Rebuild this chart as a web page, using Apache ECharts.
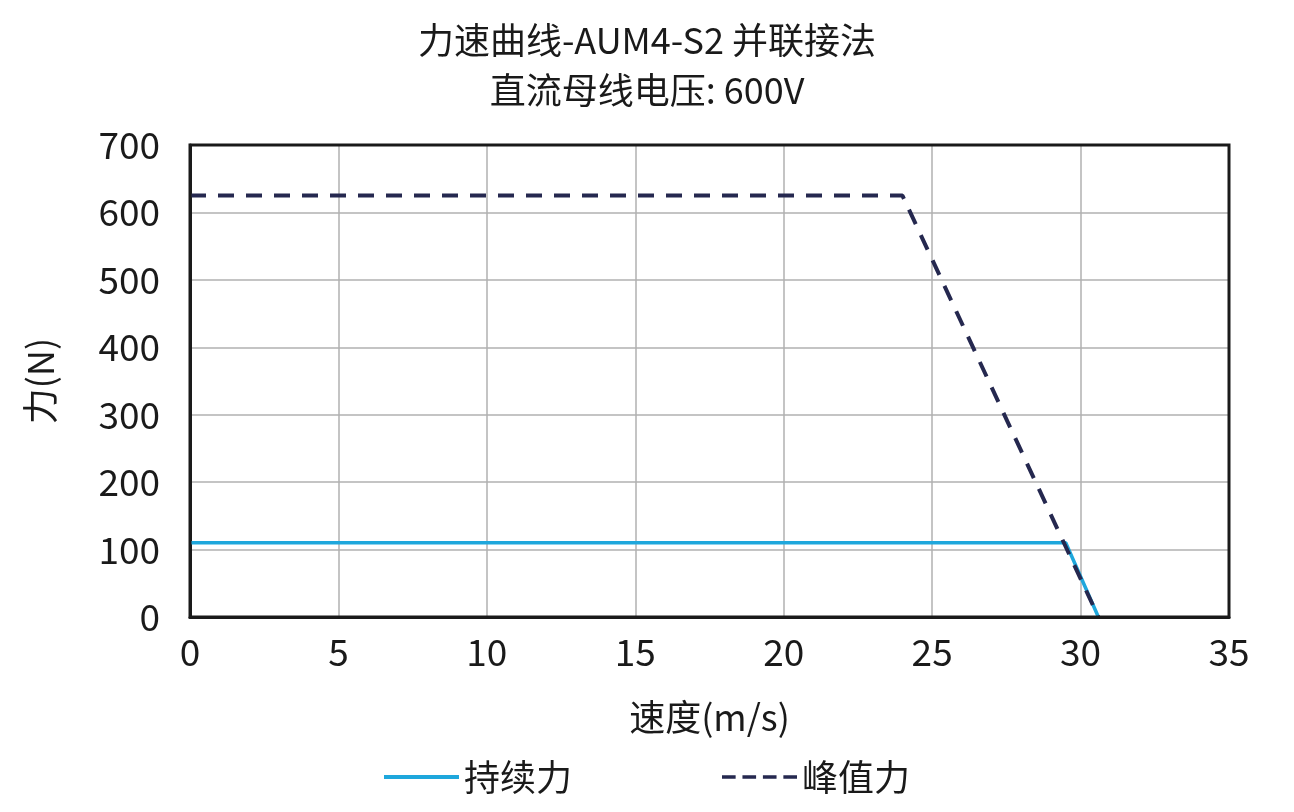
<!DOCTYPE html>
<html><head><meta charset="utf-8">
<script src="https://cdn.jsdelivr.net/npm/echarts@6/dist/echarts.min.js"></script>
<style>html,body{margin:0;background:#fff}#c{width:1294px;height:812px}</style></head>
<body><div id="c"></div>
<script>
const continuousForce = [[0,110],[29.5,110],[30.6,0]];
const peakForce = [[0,625],[24.0,625],[30.6,0]];
const F = '"Noto Sans CJK SC", "Noto Sans", sans-serif';
const chart = echarts.init(document.getElementById('c'));
chart.setOption({
  animation:false,
  title:{text:'力速曲线-AUM4-S2 并联接法\n直流母线电压: 600V',left:'center',top:10,
    textStyle:{fontFamily:F,fontSize:36,fontWeight:'normal',color:'#1a1a1a',lineHeight:50}},
  grid:{left:190,right:65,top:145,bottom:195},
  xAxis:{type:'value',min:0,max:35,interval:5,name:'速度(m/s)',nameLocation:'middle',nameGap:82,
    nameTextStyle:{fontFamily:F,fontSize:36,color:'#1a1a1a'},
    axisLine:{show:true,lineStyle:{color:'#1a1a1a',width:3}},axisTick:{show:false},
    axisLabel:{fontFamily:F,fontSize:37,color:'#1a1a1a',margin:16},
    splitLine:{show:true,lineStyle:{color:'#b0b0b0',width:1.5}}},
  yAxis:{type:'value',min:0,max:700,interval:100,name:'力(N)',nameLocation:'middle',nameGap:132,
    nameTextStyle:{fontFamily:F,fontSize:36,color:'#1a1a1a'},
    axisLine:{show:true,lineStyle:{color:'#1a1a1a',width:3}},axisTick:{show:false},
    axisLabel:{fontFamily:F,fontSize:37,color:'#1a1a1a',margin:30},
    splitLine:{show:true,lineStyle:{color:'#b0b0b0',width:1.5}}},
  legend:{bottom:12,left:'center',itemGap:150,itemWidth:75,itemHeight:4,
    textStyle:{fontFamily:F,fontSize:36,color:'#1a1a1a'},
    data:[{name:'持续力',icon:'rect'},{name:'峰值力',icon:'path://M0,0h8v2h-8zM12,0h8v2h-8zM24,0h8v2h-8zM36,0h8v2h-8z'}]},
  series:[
    {name:'持续力',type:'line',data:continuousForce,symbol:'none',lineStyle:{color:'#1ea7dc',width:3.5},itemStyle:{color:'#1ea7dc'}},
    {name:'峰值力',type:'line',data:peakForce,symbol:'none',lineStyle:{color:'#25284f',width:4,type:[16,12]},itemStyle:{color:'#25284f'}}
  ],
  graphic:[{type:'rect',shape:{x:190,y:145,width:1039,height:472},style:{fill:'none',stroke:'#1a1a1a',lineWidth:3},z:10}]
});
</script></body></html>
